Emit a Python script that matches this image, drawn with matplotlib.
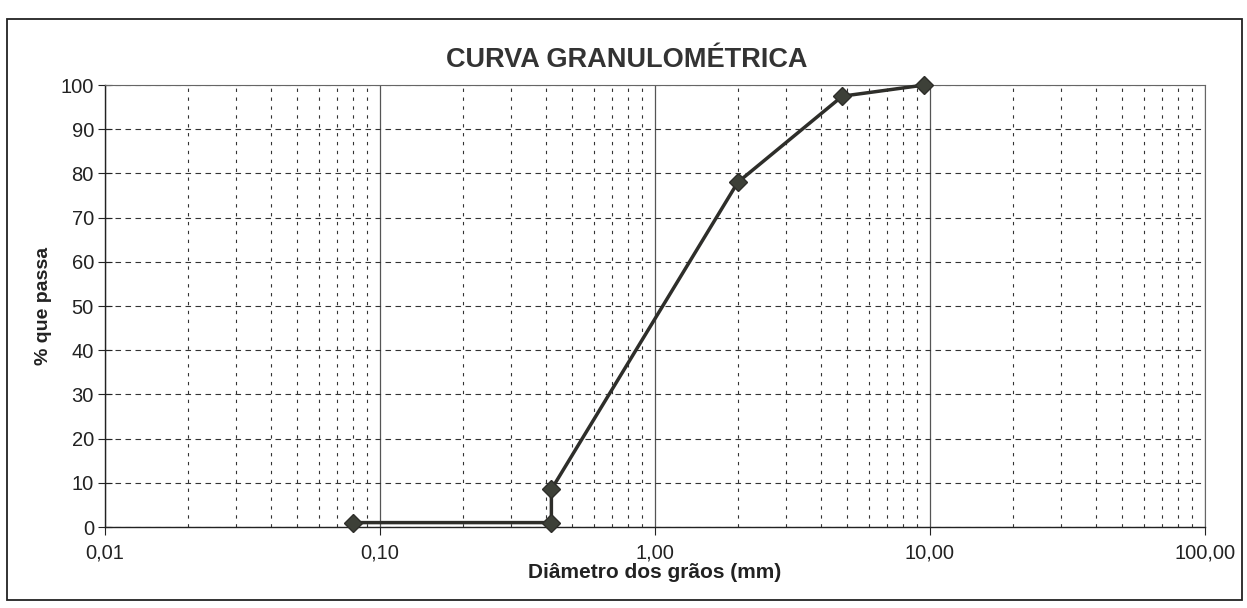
import matplotlib
matplotlib.use("Agg")
import matplotlib.pyplot as plt
from matplotlib.ticker import LogLocator, FixedLocator, NullFormatter
from matplotlib.patches import Rectangle

plt.rcParams['font.family'] = ['Liberation Sans', 'DejaVu Sans']

# Data
diametro_mm = [0.08, 0.42, 0.42, 2.0, 4.8, 9.5]
pct_passa = [1.0, 1.0, 8.5, 78.0, 97.5, 100.0]
x_tick_values = [0.01, 0.1, 1, 10, 100]
x_tick_labels = ["0,01", "0,10", "1,00", "10,00", "100,00"]
y_tick_values = [0, 10, 20, 30, 40, 50, 60, 70, 80, 90, 100]

fig = plt.figure(figsize=(12.47, 6.08), dpi=100)
ax = fig.add_axes([0.0842, 0.1332, 0.8821, 0.7268])

# outer chart border
fig.patches.append(Rectangle((0.006, 0.013), 0.99, 0.955, transform=fig.transFigure,
                             fill=False, edgecolor='#222222', linewidth=1.3))

ax.set_xscale('log')
ax.set_xlim(0.01, 100)
ax.set_ylim(0, 100)

ax.xaxis.set_major_locator(FixedLocator(x_tick_values))
ax.set_xticklabels(x_tick_labels)
ax.xaxis.set_minor_locator(LogLocator(base=10, subs=range(2, 10)))
ax.xaxis.set_minor_formatter(NullFormatter())
ax.yaxis.set_major_locator(FixedLocator(y_tick_values))

ax.grid(which='major', axis='x', color='#555555', linestyle='-', linewidth=0.9)
ax.grid(which='minor', axis='x', color='#333333', linestyle=(0, (3, 5)), linewidth=0.8)
ax.grid(which='major', axis='y', color='#333333', linestyle=(0, (5, 4)), linewidth=0.8)

ax.plot(diametro_mm, pct_passa, color='#2e2e2a', linewidth=2.5, marker='D',
        markersize=9, markerfacecolor='#3d4038', markeredgecolor='#2e2e2a', zorder=5,
        clip_on=False)

for s in ['top', 'right']:
    ax.spines[s].set_color('#666666')
    ax.spines[s].set_linewidth(0.8)
for s in ['left', 'bottom']:
    ax.spines[s].set_color('#222222')
    ax.spines[s].set_linewidth(1.0)

ax.tick_params(axis='x', which='major', direction='out', length=6, labelsize=14.5, pad=6, colors='#222222')
ax.tick_params(axis='x', which='minor', length=0)
ax.tick_params(axis='y', which='major', direction='inout', length=10, labelsize=14.5, pad=3, colors='#222222')

fig.text(627 / 1247, 1 - 60 / 608, 'CURVA GRANULOMÉTRICA', fontsize=19.5, fontweight='bold',
         color='#333333', ha='center', va='center')
ax.set_xlabel('Diâmetro dos grãos (mm)', fontsize=15, fontweight='bold', color='#222222', labelpad=0)
ax.set_ylabel('% que passa', fontsize=14, fontweight='bold', color='#222222', labelpad=6)

fig.savefig('out.png', dpi=100)
